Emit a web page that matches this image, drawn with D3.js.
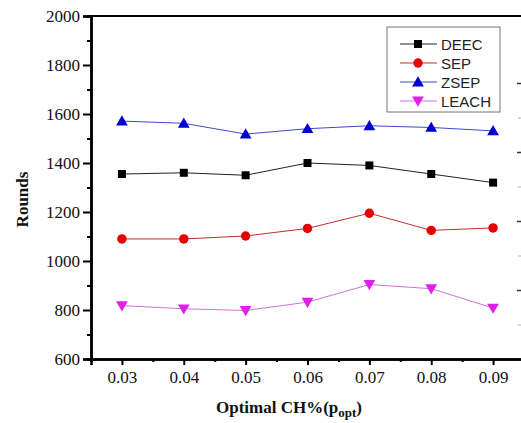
<!DOCTYPE html>
<html lang="en">
<head>
<meta charset="UTF-8">
<title>Rounds vs optimal CH%</title>
<style>
  body { margin: 0; background: #fff; }
  svg { display: block; }
</style>
</head>
<body>
<div id="chart"></div>
<script src="https://cdnjs.cloudflare.com/ajax/libs/d3/7.8.5/d3.min.js"></script>
<script>
// data
const popt = [0.03, 0.04, 0.05, 0.06, 0.07, 0.08, 0.09];
const deec = [1355, 1360, 1350, 1400, 1390, 1355, 1320];
const sep = [1090, 1090, 1102, 1133, 1195, 1125, 1135];
const zsep = [1571, 1562, 1518, 1540, 1552, 1545, 1531];
const leach = [818, 805, 798, 832, 904, 887, 808];
const yTicks = [600, 800, 1000, 1200, 1400, 1600, 1800, 2000];
const seriesNames = ["DEEC", "SEP", "ZSEP", "LEACH"];

const series = [
  {name: seriesNames[0], values: deec, color: "#000", line: "#222", symbol: d3.symbolSquare, size: 64, rot: 0},
  {name: seriesNames[1], values: sep, color: "#e80000", line: "#c0302a", symbol: d3.symbolCircle, size: 70, rot: 0},
  {name: seriesNames[2], values: zsep, color: "#0000d0", line: "#3a4ac8", symbol: d3.symbolTriangle, size: 60, rot: 0},
  {name: seriesNames[3], values: leach, color: "#e020e8", line: "#d070d8", symbol: d3.symbolTriangle, size: 60, rot: 180}
];

const W = 521, H = 423;
const mLeft = 91, mRight = 524, mTop = 16, mBottom = 359;

const svg = d3.select("#chart").append("svg")
  .attr("width", W).attr("height", H);

const x = d3.scaleLinear().domain([0.025, 0.095]).range([mLeft, mRight]);
const y = d3.scaleLinear().domain([600, 2000]).range([mBottom, mTop]);

const serif = "'Liberation Serif', 'Times New Roman', serif";
const sans = "'Liberation Sans', Arial, sans-serif";

// minor ticks
const xMinor = d3.range(0.025, 0.0951, 0.01);
const yMinor = d3.range(700, 2000, 200);

const axisG = svg.append("g");

// left axis
axisG.append("g").attr("transform", `translate(${mLeft},0)`)
  .call(d3.axisLeft(y).tickValues(yTicks).tickSize(8).tickPadding(3).tickFormat(d3.format("d")));
axisG.append("g").attr("transform", `translate(${mLeft},0)`)
  .call(d3.axisLeft(y).tickValues(yMinor).tickSize(4).tickFormat(""));

// bottom axis
axisG.append("g").attr("transform", `translate(0,${mBottom})`)
  .call(d3.axisBottom(x).tickValues(popt).tickSize(6).tickPadding(6).tickFormat(d3.format(".2f")));
axisG.append("g").attr("transform", `translate(0,${mBottom})`)
  .call(d3.axisBottom(x).tickValues(xMinor).tickSize(3).tickFormat(""));

// top frame line
axisG.append("line")
  .attr("x1", mLeft).attr("x2", mRight).attr("y1", mTop).attr("y2", mTop)
  .attr("stroke", "#000").attr("stroke-width", 2);

axisG.selectAll("g").attr("font-family", serif).attr("font-size", 17);
axisG.selectAll(".domain").attr("stroke", "#000").attr("stroke-width", 2.5);
axisG.selectAll(".tick line").attr("stroke", "#000").attr("stroke-width", 2);
axisG.selectAll(".tick text")
  .attr("font-family", serif).attr("font-size", 17).attr("fill", "#111");

// edge ticks of the neighbouring figure, cut off at the right
const edge = d3.scaleLinear().domain([0, 3]).range([83, 290]);
svg.append("g").attr("transform", `translate(${W + 2},0)`)
  .call(d3.axisLeft(edge).tickValues([0, 1, 2, 3]).tickSize(6).tickFormat(""))
  .call(g => g.select(".domain").remove())
  .call(g => g.selectAll("line").attr("stroke", "#333").attr("stroke-width", 1.5));
svg.append("g").attr("transform", `translate(${W + 2},0)`)
  .call(d3.axisLeft(edge).tickValues([0.5, 1.5, 2.5, 3.5]).tickSize(5).tickFormat(""))
  .call(g => g.select(".domain").remove())
  .call(g => g.selectAll("line").attr("stroke", "#ccc").attr("stroke-width", 1.5));

// series
const line = d3.line().x((d, i) => x(popt[i])).y(d => y(d));
series.forEach(s => {
  svg.append("path")
    .attr("d", line(s.values))
    .attr("fill", "none")
    .attr("stroke", s.line)
    .attr("stroke-width", 1);
  svg.append("g").selectAll("path")
    .data(s.values)
    .join("path")
    .attr("d", d3.symbol(s.symbol, s.size))
    .attr("transform", (d, i) => `translate(${x(popt[i])},${y(d) + (s.symbol === d3.symbolTriangle ? (s.rot ? -1 : 1) : 0)}) rotate(${s.rot})`)
    .attr("fill", s.color);
});

// legend
const lg = svg.append("g").attr("transform", "translate(387,27)");
lg.append("rect")
  .attr("width", 113).attr("height", 85)
  .attr("fill", "#fff").attr("stroke", "#777").attr("stroke-width", 1);
series.forEach((s, i) => {
  const row = lg.append("g").attr("transform", `translate(0,${17 + i * 19})`);
  row.append("line").attr("x1", 13).attr("x2", 50).attr("y1", 0).attr("y2", 0)
    .attr("stroke", s.line).attr("stroke-width", 1);
  row.append("path")
    .attr("d", d3.symbol(s.symbol, s.size)())
    .attr("transform", `translate(31,${s.symbol === d3.symbolTriangle ? (s.rot ? -1 : 1) : 0}) rotate(${s.rot})`)
    .attr("fill", s.color);
  row.append("text")
    .attr("x", 54).attr("y", 5.5)
    .attr("font-family", sans).attr("font-size", 15)
    .attr("fill", "#222")
    .text(s.name);
});

// axis titles
svg.append("text")
  .attr("transform", `translate(28,${(mTop + mBottom) / 2 + 12}) rotate(-90)`)
  .attr("text-anchor", "middle")
  .attr("font-family", serif).attr("font-weight", "bold").attr("font-size", 17)
  .attr("fill", "#111")
  .text("Rounds");

const xt = svg.append("text")
  .attr("x", 289).attr("y", 413)
  .attr("text-anchor", "middle")
  .attr("font-family", serif).attr("font-weight", "bold").attr("font-size", 17)
  .attr("fill", "#111");
xt.append("tspan").text("Optimal CH%(p");
xt.append("tspan").attr("font-size", 13).attr("dy", 4).text("opt");
xt.append("tspan").attr("dy", -4).text(")");
</script>
</body>
</html>
